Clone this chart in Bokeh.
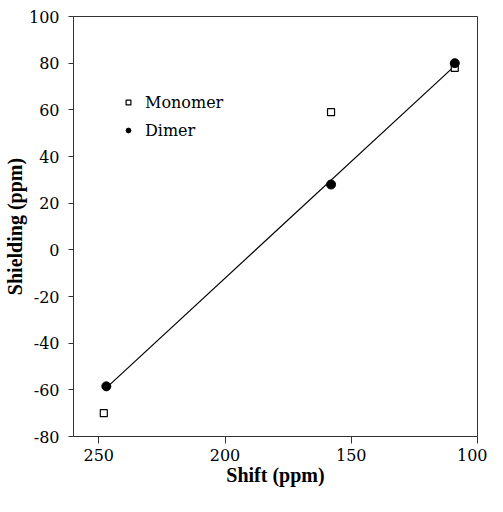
import numpy as np
from bokeh.plotting import figure
from bokeh.models import Range1d, FixedTicker, Legend, LegendItem
from bokeh.embed import file_html
from bokeh.resources import INLINE

# Data
monomer_shift = [248, 158, 109]
monomer_shielding = [-70, 59, 78]
dimer_shift = [247, 158, 109]
dimer_shielding = [-58.5, 28, 80]

x_ticks = [250, 200, 150, 100]
y_ticks = [-80, -60, -40, -20, 0, 20, 40, 60, 80, 100]

LABEL_FONT = "Liberation Serif"
TEXT_FONT = "DejaVu Serif"
TEXT_SIZE = "16px"

p = figure(width=487, height=496, output_backend="svg", toolbar_location=None,
           x_range=Range1d(260, 100), y_range=Range1d(-80, 100),
           min_border_left=65, min_border_right=10, min_border_top=16,
           min_border_bottom=60)

p.xgrid.visible = False
p.ygrid.visible = False
p.outline_line_color = "#333333"
p.outline_line_width = 1
p.background_fill_color = "white"
p.border_fill_color = "white"

# Least-squares line through the dimer data
slope, intercept = np.polyfit(dimer_shift, dimer_shielding, 1)
xs = np.array([max(dimer_shift), min(dimer_shift)], dtype=float)
p.line(xs, slope * xs + intercept, line_color="black", line_width=1.2)

r_mono = p.scatter(monomer_shift, monomer_shielding, marker="square", size=7,
                   fill_color="white", line_color="black", line_width=1.2)
r_dim = p.scatter(dimer_shift, dimer_shielding, marker="circle", size=9,
                  fill_color="black", line_color="black")

legend = Legend(items=[LegendItem(label="Monomer", renderers=[r_mono]),
                       LegendItem(label="Dimer", renderers=[r_dim])],
                location=(49, 296), padding=0, spacing=8,
                glyph_width=12, glyph_height=20, label_height=20,
                label_standoff=11, border_line_color=None,
                background_fill_alpha=0,
                label_text_font=TEXT_FONT, label_text_font_size=TEXT_SIZE,
                label_text_color="black")
p.add_layout(legend)

# X axis
p.xaxis.ticker = FixedTicker(ticks=x_ticks)
p.xaxis.axis_label = "Shift (ppm)"
p.xaxis.major_tick_out = 7
p.xaxis.major_tick_in = 0
p.xaxis.minor_tick_line_color = None
p.xaxis.major_label_standoff = 5
p.xaxis.axis_label_standoff = 0

# Y axis
p.yaxis.ticker = FixedTicker(ticks=y_ticks)
p.yaxis.axis_label = "Shielding (ppm)"
p.yaxis.major_tick_out = 5
p.yaxis.major_tick_in = 0
p.yaxis.minor_tick_line_color = None
p.yaxis.major_label_standoff = 9
p.yaxis.axis_label_standoff = 0
p.yaxis.major_label_overrides = {t: str(t) for t in y_ticks}

for ax in (p.xaxis, p.yaxis):
    ax.axis_line_color = "#333333"
    ax.major_tick_line_color = "#333333"
    ax.major_label_text_font = TEXT_FONT
    ax.major_label_text_font_size = TEXT_SIZE
    ax.major_label_text_color = "black"
    ax.axis_label_text_font = LABEL_FONT
    ax.axis_label_text_font_size = "20px"
    ax.axis_label_text_font_style = "bold"
    ax.axis_label_text_color = "black"

open("out.html", "w").write(file_html(p, INLINE))
